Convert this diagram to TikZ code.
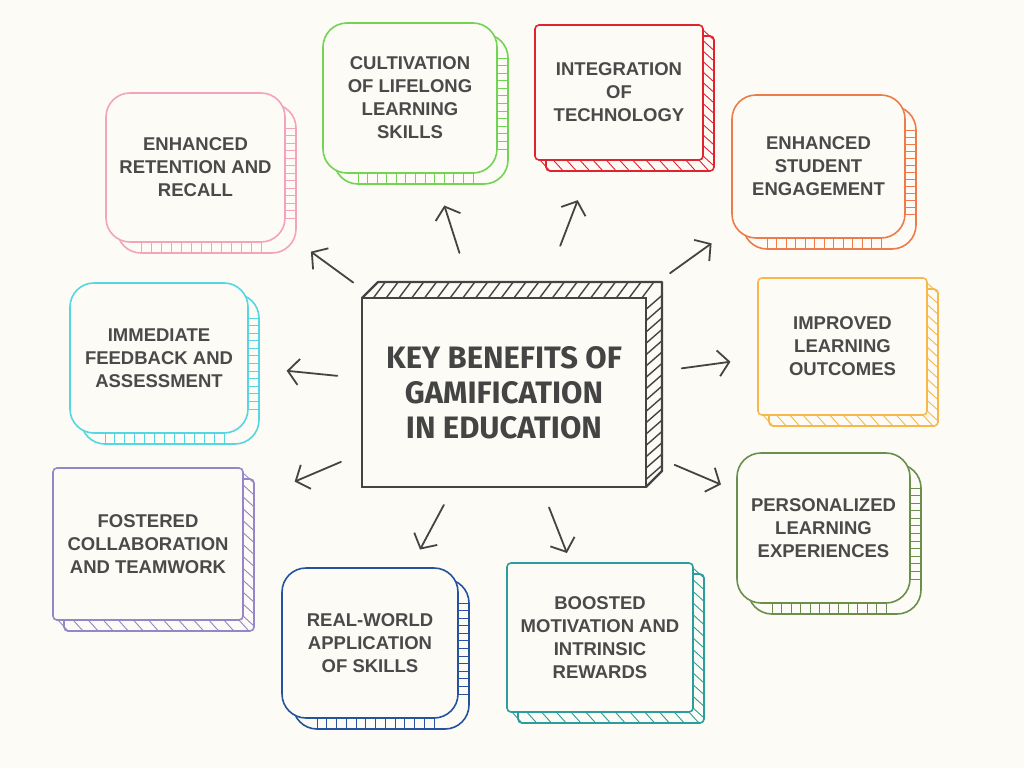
\documentclass[tikz,border=0pt]{standalone}
\usepackage{fontspec}
\setmainfont{Liberation Sans}
\newfontfamily\keyfont{Fira Sans}
\usepackage{xcolor}
\usepackage{tikz}
\usetikzlibrary{
  arrows.meta,
  positioning,
  calc,
}
\definecolor{paper}{HTML}{FCFBF5}
\definecolor{inkgray}{HTML}{4A4A4A}
\definecolor{keyline}{HTML}{444444}
\definecolor{pinkline}{HTML}{F4A3BE}
\definecolor{greenline}{HTML}{72D452}
\definecolor{redline}{HTML}{E2222E}
\definecolor{orangeline}{HTML}{EE7B4A}
\definecolor{yellowline}{HTML}{F7B84B}
\definecolor{oliveline}{HTML}{6B8E4E}
\definecolor{tealline}{HTML}{2A9D9C}
\definecolor{navyline}{HTML}{2553A0}
\definecolor{purpleline}{HTML}{9585C9}
\definecolor{cyanline}{HTML}{55D6E2}
\tikzset{
  benefit/.style={
    rectangle, draw=#1, line width=1.6pt, fill=paper, inner sep=4pt,
    align=center, text=inkgray,
    font=\fontsize{18.5}{23}\selectfont\bfseries,
  },
  sidewall/.style={
    draw=#1, line width=1.6pt, fill=paper,
  },
  hatch/.style={
    draw=#1, line width=0.9pt,
  },
  keybox/.style={
    rectangle, draw=keyline, line width=2.2pt, fill=paper,
    minimum width=284pt, minimum height=189pt, align=center,
    text=keyline, font=\keyfont\fontsize{31}{35}\selectfont\bfseries,
  },
  spoke/.style={
    -{Straight Barb[length=11pt,width=26pt]}, line width=1.8pt,
    draw=keyline, line cap=round,
  },
}

\begin{document}
\begin{tikzpicture}[x=1pt, y=-1pt]

\fill[paper] (0,0) rectangle (1024,768);
\useasboundingbox (0,0) rectangle (1024,768);

% centre block, extruded up and to the right
\draw[sidewall=keyline, line width=2.2pt, line join=round]
  (362,298) -- (378,282) -- (662,282) -- (662,471) -- (646,487);
\node[keybox] (key) at (504,392.5) {%
  KEY BENEFITS OF\\GAMIFICATION\\IN EDUCATION%
};
\foreach \t in {0.04,0.085,...,1}
  \draw[hatch=keyline, line width=1.4pt] ($(362,298)!\t!(646,298)$) -- ++(12,-16);
\foreach \t in {0.06,0.12,...,1}
  \draw[hatch=keyline, line width=1.4pt] ($(646,298)!\t!(646,487)$) -- ++(16,-14);

% benefit boxes: name/colour/x1/y1/x2/y2/corner/slant/text
\foreach \nm/\col/\xa/\ya/\xb/\yb/\rad/\sl/\txt in {
  b1/pinkline/106/93/285/242/24/0/{ENHANCED\\RETENTION AND\\RECALL},
  b2/greenline/323/23/497/173/24/0/{CULTIVATION\\OF LIFELONG\\LEARNING\\SKILLS},
  b3/redline/535/25/703/160/4/10/{INTEGRATION\\OF\\TECHNOLOGY},
  b4/orangeline/732/95/905/238/24/0/{ENHANCED\\STUDENT\\ENGAGEMENT},
  b5/yellowline/758/278/927/415/4/10/{IMPROVED\\LEARNING\\OUTCOMES},
  b6/oliveline/737/453/910/603/24/0/{PERSONALIZED\\LEARNING\\EXPERIENCES},
  b7/tealline/507/563/693/712/4/10/{BOOSTED\\MOTIVATION AND\\INTRINSIC\\REWARDS},
  b8/navyline/282/568/458/718/24/0/{REAL-WORLD\\APPLICATION\\OF SKILLS},
  b9/purpleline/53/468/243/620/4/10/{FOSTERED\\COLLABORATION\\AND TEAMWORK},
  b10/cyanline/70/283/248/433/24/0/{IMMEDIATE\\FEEDBACK AND\\ASSESSMENT}%
}{
  \draw[sidewall=\col, rounded corners=\rad]
    (\xa+11,\ya+11) rectangle (\xb+11,\yb+11);
  \node[benefit=\col, rounded corners=\rad,
        minimum width={(\xb-\xa)*1pt}, minimum height={(\yb-\ya)*1pt}]
    (\nm) at ({(\xa+\xb)/2},{(\ya+\yb)/2}) {\txt};
  \foreach \t in {0,0.0833,...,1.01} {
    \draw[hatch=\col] ($(\xa+\rad+11-\sl,\yb)!\t!(\xb-\rad,\yb)$) -- ++(\sl,11);
    \draw[hatch=\col] ($(\xb,\ya+\rad+11-\sl)!\t!(\xb,\yb-\rad)$) -- ++(11,\sl);
  }
}

% spokes from the centre block
\foreach \b/\s/\e in {b1/0.489/0.626, b2/0.474/0.635, b3/0.489/0.641,
    b4/0.528/0.660, b5/0.525/0.669, b6/0.534/0.679, b7/0.469/0.655,
    b8/0.449/0.627, b9/0.458/0.588, b10/0.483/0.630}
  \draw[spoke] ($(key)!\s!(\b)$) -- ($(key)!\e!(\b)$);

\end{tikzpicture}
\end{document}
